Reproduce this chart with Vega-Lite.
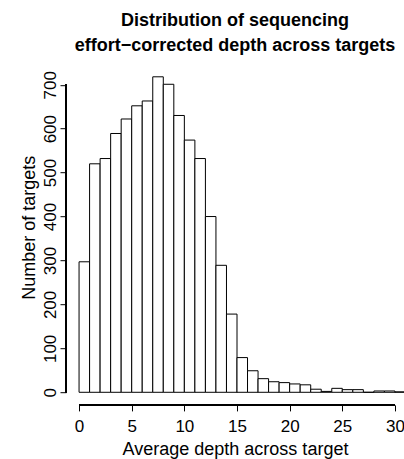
{
  "$schema": "https://vega.github.io/schema/vega-lite/v6.json",
  "autosize": "none",
  "width": 338,
  "height": 340.7,
  "padding": {"left": 66, "top": 64.2, "right": 0, "bottom": 54.1},
  "background": "white",
  "title": {
    "text": ["Distribution of sequencing", "effort−corrected depth across targets"],
    "font": "Liberation Sans",
    "fontSize": 18,
    "fontWeight": "bold",
    "color": "black",
    "anchor": "middle",
    "frame": "group",
    "lineHeight": 25,
    "offset": 9
  },
  "config": {
    "view": {"stroke": null},
    "font": "Liberation Sans"
  },
  "data": {
    "values": [
      {"start": 0, "end": 1, "count": 297},
      {"start": 1, "end": 2, "count": 520},
      {"start": 2, "end": 3, "count": 532},
      {"start": 3, "end": 4, "count": 589},
      {"start": 4, "end": 5, "count": 622},
      {"start": 5, "end": 6, "count": 652},
      {"start": 6, "end": 7, "count": 663},
      {"start": 7, "end": 8, "count": 718},
      {"start": 8, "end": 9, "count": 701},
      {"start": 9, "end": 10, "count": 630},
      {"start": 10, "end": 11, "count": 574},
      {"start": 11, "end": 12, "count": 532},
      {"start": 12, "end": 13, "count": 400},
      {"start": 13, "end": 14, "count": 289},
      {"start": 14, "end": 15, "count": 178},
      {"start": 15, "end": 16, "count": 79},
      {"start": 16, "end": 17, "count": 49},
      {"start": 17, "end": 18, "count": 31},
      {"start": 18, "end": 19, "count": 24},
      {"start": 19, "end": 20, "count": 22},
      {"start": 20, "end": 21, "count": 19},
      {"start": 21, "end": 22, "count": 17},
      {"start": 22, "end": 23, "count": 7},
      {"start": 23, "end": 24, "count": 2},
      {"start": 24, "end": 25, "count": 9},
      {"start": 25, "end": 26, "count": 6},
      {"start": 26, "end": 27, "count": 6},
      {"start": 27, "end": 28, "count": 0},
      {"start": 28, "end": 29, "count": 3},
      {"start": 29, "end": 30, "count": 3},
      {"start": 30, "end": 31, "count": 1}
    ]
  },
  "layer": [
    {
      "mark": {"type": "bar", "fill": "white", "stroke": "black", "strokeWidth": 1, "clip": true},
      "encoding": {
        "x": {
          "field": "start", "type": "quantitative",
          "scale": {"domain": [-1.24, 30.86], "nice": false, "zero": false},
          "axis": {
            "values": [0, 5, 10, 15, 20, 25, 30],
            "domain": false, "grid": false,
            "tickSize": 6, "tickColor": "black", "tickWidth": 1,
            "labelFont": "Liberation Sans", "labelFontSize": 17, "labelColor": "black",
            "labelPadding": 8, "labelFlush": false, "labelOverlap": false,
            "title": "Average depth across target",
            "titleFont": "Liberation Sans", "titleFontSize": 18, "titleFontWeight": "normal",
            "titleColor": "black", "titlePadding": 6
          }
        },
        "x2": {"field": "end"},
        "y": {
          "field": "count", "type": "quantitative",
          "scale": {"domain": [-28.7, 746.7], "nice": false, "zero": false},
          "axis": {
            "values": [0, 100, 200, 300, 400, 500, 600, 700],
            "domain": false, "grid": false,
            "tickSize": 6, "tickColor": "black", "tickWidth": 1,
            "labelFont": "Liberation Sans", "labelFontSize": 17, "labelColor": "black",
            "labelAngle": 270, "labelAlign": "center", "labelBaseline": "alphabetic",
            "labelPadding": 5, "labelFlush": false, "labelOverlap": false,
            "title": "Number of targets",
            "titleFont": "Liberation Sans", "titleFontSize": 18, "titleFontWeight": "normal",
            "titleColor": "black", "titlePadding": 3, "titleY": 163
          }
        },
        "y2": {"datum": 0}
      }
    },
    {
      "mark": {"type": "rule", "color": "black", "strokeWidth": 1},
      "encoding": {
        "x": {"datum": -1.24, "type": "quantitative"},
        "y": {"datum": 0, "type": "quantitative"},
        "y2": {"datum": 700}
      }
    },
    {
      "mark": {"type": "rule", "color": "black", "strokeWidth": 1},
      "encoding": {
        "x": {"datum": 0, "type": "quantitative"},
        "x2": {"datum": 30},
        "y": {"datum": -28.7, "type": "quantitative"}
      }
    }
  ]
}
